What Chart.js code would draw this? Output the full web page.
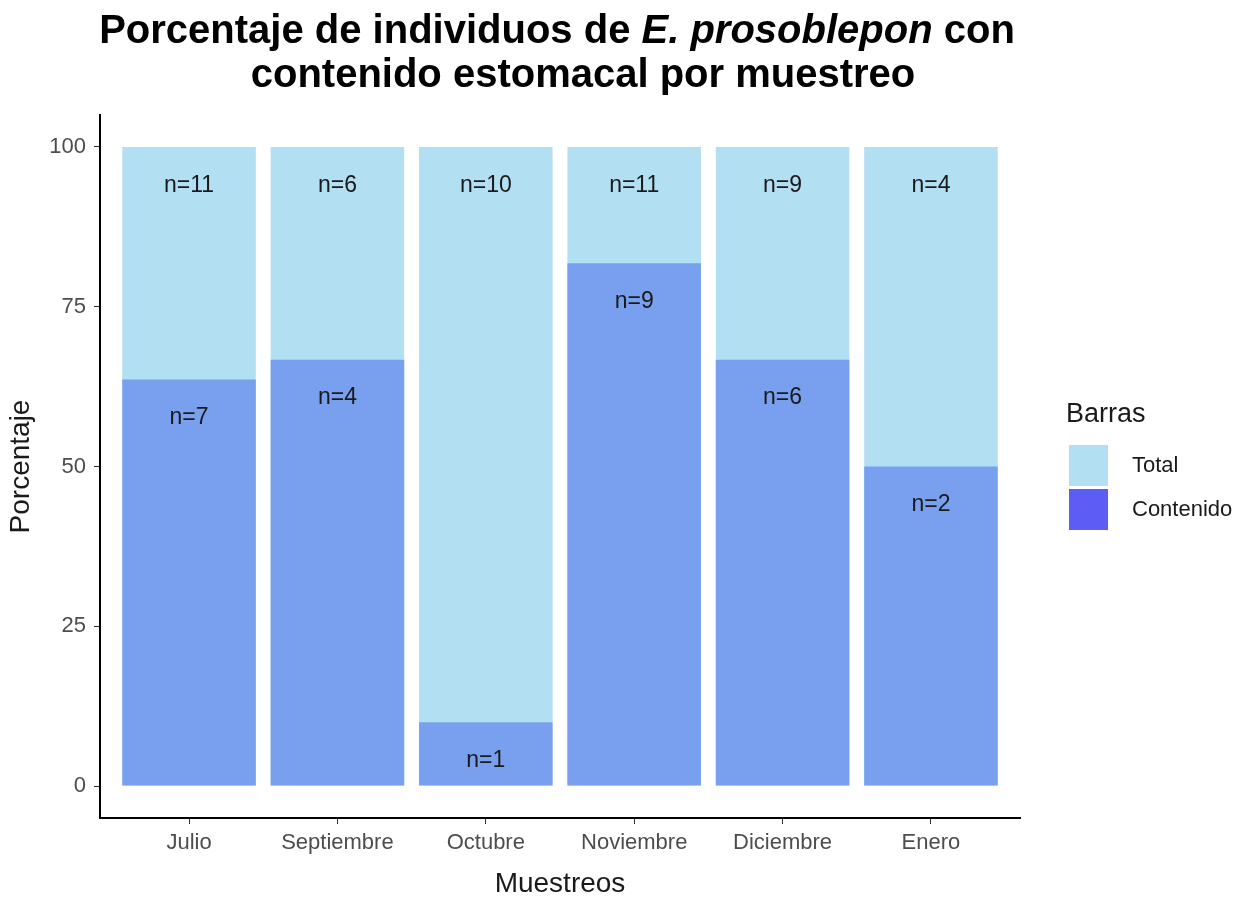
<!DOCTYPE html>
<html lang="es">
<head>
    <meta charset="UTF-8">
    <title>Porcentaje de individuos con contenido estomacal</title>
    <style>
        body {
            margin: 0;
            background: #ffffff;
            font-family: 'Liberation Sans', Arial, sans-serif;
        }
        .wrap {
            position: relative;
            width: 1260px;
            height: 901px;
        }
        .title {
            position: absolute;
            font-weight: bold;
            font-size: 40px;
            line-height: 46px;
            color: #000;
            text-align: center;
            white-space: nowrap;
        }
        .legend {
            position: absolute;
            left: 1066px;
            top: 398px;
            color: #1a1a1a;
        }
        .legend .head {
            font-size: 27px;
            margin-bottom: 14px;
        }
        .legend .item {
            display: flex;
            align-items: center;
            height: 44px;
            font-size: 22px;
        }
        .legend .box {
            width: 39px;
            height: 41px;
            margin-left: 3px;
            margin-right: 24px;
        }
    </style>
</head>
<body>
<div class="wrap">
    <div class="title" style="left:57px; width:1000px; top:6px;">Porcentaje de individuos de <i>E. prosoblepon</i> con</div>
    <div class="title" style="left:83px; width:1000px; top:50px;">contenido estomacal por muestreo</div>
    <canvas id="chart" width="1260" height="901"></canvas>
    <div class="legend">
        <div class="head">Barras</div>
        <div class="item"><div class="box" style="background:#b3dff3"></div>Total</div>
        <div class="item"><div class="box" style="background:#5d5df5"></div>Contenido</div>
    </div>
</div>

<script src="https://cdn.jsdelivr.net/npm/chart.js"></script>
<script>
    // data
    const meses = ['Julio', 'Septiembre', 'Octubre', 'Noviembre', 'Diciembre', 'Enero'];
    const nTotal = [11, 6, 10, 11, 9, 4];
    const nContenido = [7, 4, 1, 9, 6, 2];
    const pctTotal = [100, 100, 100, 100, 100, 100];
    const pctContenido = [63.6, 66.7, 10, 81.8, 66.7, 50];
    const yTicks = [0, 25, 50, 75, 100];

    const colTotal = '#b3dff3';
    const colContenido = '#78a0ee';

    // "n=" labels inside the bars
    const nLabels = {
        id: 'nLabels',
        afterDatasetsDraw(chart) {
            const ctx = chart.ctx;
            const xs = chart.scales.x;
            const ys = chart.scales.y;
            ctx.save();
            ctx.font = '23px "Liberation Sans", Arial, sans-serif';
            ctx.fillStyle = '#1a1a1a';
            ctx.textAlign = 'center';
            ctx.textBaseline = 'middle';
            meses.forEach((m, i) => {
                const x = xs.getPixelForValue(i + 1);
                ctx.fillText('n=' + nTotal[i], x, ys.getPixelForValue(pctTotal[i] - 6));
                ctx.fillText('n=' + nContenido[i], x, ys.getPixelForValue(pctContenido[i] - 6));
            });
            ctx.restore();
        }
    };

    new Chart(document.getElementById('chart'), {
        type: 'bar',
        data: {
            datasets: [
                {
                    label: 'Total',
                    data: pctTotal.map((v, i) => ({ x: i + 1, y: v })),
                    backgroundColor: colTotal,
                    order: 2
                },
                {
                    label: 'Contenido',
                    data: pctContenido.map((v, i) => ({ x: i + 1, y: v })),
                    backgroundColor: colContenido,
                    order: 1
                }
            ]
        },
        options: {
            responsive: false,
            animation: false,
            grouped: false,
            barPercentage: 0.9,
            categoryPercentage: 1,
            layout: {
                padding: { top: 115, right: 240, left: 0, bottom: 0 }
            },
            plugins: {
                legend: { display: false },
                tooltip: { enabled: false }
            },
            scales: {
                x: {
                    type: 'linear',
                    offset: false,
                    min: 0.4,
                    max: 6.6,
                    afterBuildTicks: axis => {
                        axis.ticks = meses.map((m, i) => ({ value: i + 1 }));
                    },
                    afterFit: scale => { scale.height = 83; },
                    ticks: {
                        callback: v => meses[v - 1],
                        color: '#4d4d4d',
                        font: { size: 22, family: '"Liberation Sans", Arial, sans-serif' },
                        padding: 6,
                        maxRotation: 0,
                        autoSkip: false
                    },
                    grid: {
                        display: true,
                        offset: false,
                        drawOnChartArea: false,
                        drawTicks: true,
                        tickLength: 6,
                        color: '#333333'
                    },
                    border: { display: true, color: '#000000', width: 2 },
                    title: {
                        display: true,
                        text: 'Muestreos',
                        color: '#1a1a1a',
                        font: { size: 28, family: '"Liberation Sans", Arial, sans-serif' },
                        padding: { top: 0, bottom: 0 }
                    }
                },
                y: {
                    min: -5,
                    max: 105,
                    afterBuildTicks: axis => {
                        axis.ticks = yTicks.map(v => ({ value: v }));
                    },
                    afterFit: scale => { scale.width = 100; },
                    ticks: {
                        color: '#4d4d4d',
                        font: { size: 22, family: '"Liberation Sans", Arial, sans-serif' },
                        padding: 8
                    },
                    grid: {
                        display: true,
                        drawOnChartArea: false,
                        drawTicks: true,
                        tickLength: 6,
                        color: '#333333'
                    },
                    border: { display: true, color: '#000000', width: 2 },
                    title: {
                        display: true,
                        text: 'Porcentaje',
                        color: '#1a1a1a',
                        font: { size: 28, family: '"Liberation Sans", Arial, sans-serif' },
                        padding: { top: 4, bottom: 0 }
                    }
                }
            }
        },
        plugins: [nLabels]
    });
</script>
</body>
</html>
